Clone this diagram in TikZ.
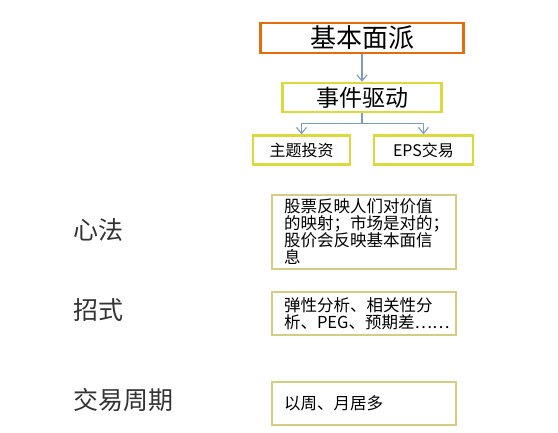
\documentclass[tikz,border=0pt]{standalone}
\usepackage{fontspec}
\setmainfont{Noto Sans CJK SC}
\usetikzlibrary{arrows.meta}
\definecolor{orangeline}{RGB}{228,108,10}
\definecolor{yellowline}{RGB}{218,218,60}
\definecolor{paleline}{RGB}{212,204,130}
\definecolor{linkblue}{RGB}{125,155,195}

\begin{document}
\begin{tikzpicture}[x=1pt,y=-1pt,
    topbox/.style={draw=orangeline,line width=2.5pt,minimum width=203pt,minimum height=30pt,inner sep=0pt,font=\fontsize{26}{28}\selectfont},
    midbox/.style={draw=yellowline,line width=2.5pt,minimum height=29pt,inner sep=0pt},
    notebox/.style={draw=paleline,line width=1.2pt,text width=160pt,inner xsep=12pt,inner ysep=3pt,align=left,font=\fontsize{16.5}{17}\selectfont},
    sidetag/.style={anchor=west,text=black!80,inner sep=0pt,font=\fontsize{25}{27}\selectfont},
    link/.style={draw=linkblue,line width=1.1pt,-{Straight Barb[length=6pt,width=10pt]}}]
                    \useasboundingbox (0,0) rectangle (558,432);
                    % tree
                    \node[topbox] (fund) at (362,38) {基本面派};
                    \node[midbox,minimum width=159pt,font=\fontsize{23}{25}\selectfont] (event) at (362,97.5) {事件驱动};
                    \node[midbox,minimum width=97pt,font=\fontsize{16}{18}\selectfont] (theme) at (301.5,150) {主题投资};
                    \node[midbox,minimum width=99pt,font=\fontsize{16}{18}\selectfont] (eps) at (423.5,150) {EPS交易};
                    \draw[link] (fund) -- (event);
                    \draw[draw=linkblue,line width=1.1pt] (event.south) -- ++(0,10) coordinate (split);
                    \draw[link] (split) -| (theme.north);
                    \draw[link] (split) -| (eps.north);
                    % rows
                    \node[sidetag] (mind) at (73,230) {心法};
                    \node[sidetag] (move) at (73,310) {招式};
                    \node[sidetag] (cycle) at (73,400) {交易周期};
                    \node[notebox,minimum height=74pt] (mindnote) at (364,232) {股票反映人们对价值\\的映射；市场是对的；\\股价会反映基本面信\\息};
                    \node[notebox,minimum height=43pt] (movenote) at (364,313.5) {弹性分析、相关性分\\析、PEG、预期差……};
                    \node[notebox,minimum height=43pt] (cyclenote) at (364,403.5) {以周、月居多};
                \end{tikzpicture}
\end{document}
